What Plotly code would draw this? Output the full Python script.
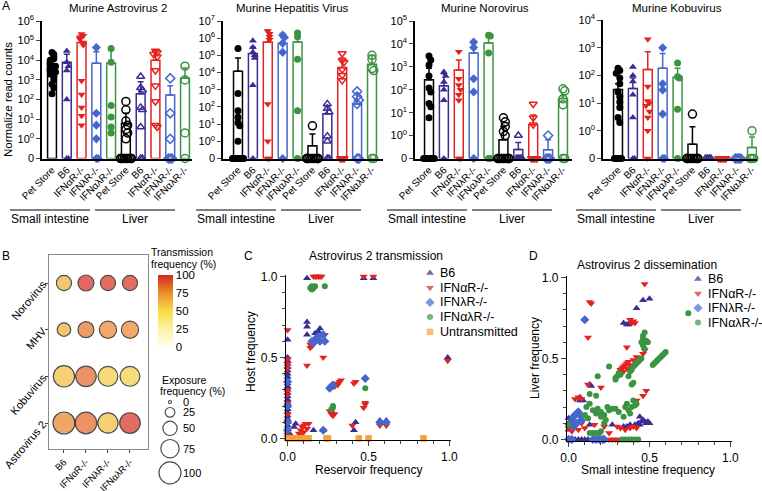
import math
import plotly.graph_objects as go

W, H = 762, 491
FONT = "Liberation Sans, Arial, sans-serif"

# ---------------- Panel A data ----------------
group_names = ["Pet Store", "B6", "IFNαR-/-", "IFNλR-/-", "IFNαλR-/-"]
tissue_names = ["Small intestine", "Liver"]
a_titles = ["Murine Astrovirus 2", "Murine Hepatitis Virus", "Murine Norovirus", "Murine Kobuvirus"]
a_top_exponents = [6, 7, 5, 4]

# order: SI Pet Store, B6, IFNaR, IFNlR, IFNalR, Liver Pet Store, B6, IFNaR, IFNlR, IFNalR
astro_mean = [6000, 8000, 80000, 7000, 7000, 6, 200, 10000, 170, 1200]
astro_err = [30000, 20000, 200000, 27000, 32000, 20, 800, 30000, 500, 4000]
astro_pts = [
    [25000, 20000, 15000, 12000, 10000, 8000, 7000, 6000, 5000, 4000, 3500, 3000, 2500, 2000, 1500, 1000, 600, 400, 200],
    [30000, 8000, 5000, 3000, 100, 0, 0],
    [220000, 180000, 150000, 120000, 80000, 60000, 900, 180, 40, 15, 5],
    [45000, 20, 5, 1, 0, 0],
    [40000, 8000, 50, 13, 4, 2],
    [80, 30, 8, 5, 3, 2, 1, 0, 0, 0, 0, 0, 0, 0, 0, 0],
    [1500, 400, 300, 40, 30, 4, 0, 0],
    [30000, 25000, 20000, 15000, 3000, 500, 80, 5, 4],
    [1200, 20, 1, 0, 0, 0],
    [5000, 1000, 2, 0],
]

mhv_mean = [12000, 130000, 600000, 500000, 600000, 0.56, 40, 20000, 150, 30000]
mhv_err = [70000, 300000, 3000000, 1900000, 2300000, 2.7, 120, 70000, 600, 100000]
mhv_pts = [
    [250000, 600, 60, 25, 12, 8, 1, 0, 0, 0, 0, 0, 0, 0, 0, 0],
    [700000, 300000, 150000, 100000, 70000, 1800, 0],
    [2500000, 1800000, 1200000, 800000, 150, 1, 0, 0],
    [1500000, 1100000, 500000, 150000, 0],
    [2000000, 1200000, 60000, 60, 0],
    [8, 0, 0, 0, 0, 0, 0, 0, 0, 0, 0, 0, 0, 0],
    [150, 80, 50, 2, 1, 0, 0],
    [130000, 50000, 40000, 15000, 7000, 3500, 0, 0, 0],
    [800, 400, 250, 150, 0, 0],
    [100000, 60000, 17000, 13000, 0, 0],
]

noro_mean = [270, 150, 720, 4000, 11000, 0.65, 0.25, 3, 0.24, 42]
noro_err = [870, 500, 2000, 11000, 22000, 2.5, 0.5, 8, 0.65, 55]
noro_pts = [
    [3000, 2000, 1200, 400, 120, 80, 25, 18, 6, 0, 0, 0, 0, 0, 0, 0],
    [600, 400, 220, 100, 35, 0],
    [4500, 300, 160, 100, 60, 35, 0, 0],
    [12000, 7000, 300, 80, 0],
    [24000, 22000, 4000, 0, 0],
    [6, 4, 2.5, 1.5, 1, 0, 0, 0, 0, 0, 0, 0, 0, 0, 0, 0],
    [1, 0, 0, 0, 0],
    [24, 6, 3, 0, 0, 0, 0],
    [1, 0, 0, 0],
    [110, 90, 40, 22, 0, 0],
]

kobu_mean = [31, 34, 165, 180, 85, 0.33, 0, 0, 0, 0.25]
kobu_err = [50, 80, 720, 620, 180, 1.4, 0, 0, 0, 0.6]
kobu_pts = [
    [180, 150, 120, 80, 50, 25, 17, 11, 7, 3, 2, 0, 0, 0, 0, 0],
    [200, 100, 60, 20, 3, 0, 0],
    [2000, 40, 12, 10, 8, 5, 3, 1, 0],
    [1000, 50, 30, 4, 0, 0],
    [280, 90, 80, 6, 0],
    [4, 0, 0, 0, 0, 0, 0, 0, 0, 0, 0, 0],
    [0, 0, 0, 0],
    [0, 0, 0, 0, 0],
    [0, 0, 0, 0],
    [1, 0, 0, 0],
]

# ---------------- Panel B data ----------------
b_viruses = ["Astrovirus 2", "Kobuvirus", "MHV", "Norovirus"]  # bottom -> top
b_genotypes = ["B6", "IFNαR-/-", "IFNλR-/-", "IFNαλR-/-"]
b_transmission = [[78, 85, 60, 98], [60, 85, 55, 55], [65, 82, 77, 77], [65, 100, 98, 98]]
b_exposure = [[100, 97, 88, 90], [95, 90, 85, 85], [45, 60, 68, 68], [55, 60, 55, 55]]
b_legend_values = [0, 25, 50, 75, 100]
b_colorbar_ticks = [0, 25, 50, 75, 100]

# ---------------- Panel C data (reservoir freq, host freq) ----------------
c_b6 = [(0, 0.61), (0, 0.5), (0, 0.48), (0, 0.46), (0, 0.44), (0, 0.42), (0, 0.40), (0, 0.38), (0, 0.36),
        (0, 0.34), (0, 0.32), (0, 0.30), (0, 0.28), (0, 0.26), (0, 0.24), (0, 0.22), (0, 0.20), (0, 0.18),
        (0, 0.16), (0, 0.14), (0, 0.12), (0, 0.10), (0, 0.08), (0, 0.06), (0, 0.04), (0, 0.02), (0, 0.0),
        (0.12, 0.99), (0.47, 0.99), (0.53, 0.99), (0.12, 0.72), (0.12, 0.69), (0.12, 0.64), (0.17, 0.65),
        (0.19, 0.66), (0.20, 0.68), (0.18, 0.63), (0.99, 0.50), (0.05, 0.09), (0.04, 0.07), (0.16, 0.05),
        (0.22, 0.05), (0.42, 0.10), (0.41, 0.05), (0.57, 0.11), (0.61, 0.11), (0.02, 0.02)]
c_ar = [(0, 0.67), (0, 0.49), (0, 0.46), (0, 0.43), (0, 0.30), (0, 0.27), (0, 0.22), (0, 0.15), (0, 0.10),
        (0, 0.05), (0, 0.02), (0.16, 1.0), (0.17, 1.0), (0.18, 1.0), (0.19, 1.0), (0.20, 1.0), (0.21, 1.0),
        (0.47, 1.0), (0.53, 1.0), (0.14, 0.58), (0.15, 0.57), (0.16, 0.59), (0.14, 0.56), (0.23, 0.64),
        (0.12, 0.45), (0.22, 0.50), (0.99, 0.48), (0.30, 0.34), (0.31, 0.33), (0.32, 0.35), (0.33, 0.36),
        (0.29, 0.32), (0.42, 0.35), (0.41, 0.34), (0.26, 0.17), (0.27, 0.15), (0.28, 0.14), (0.27, 0.16),
        (0.29, 0.15), (0.48, 0.21), (0.47, 0.19), (0.48, 0.22), (0.40, 0.08), (0.57, 0.08), (0.61, 0.08),
        (0.07, 0.03), (0.08, 0.05), (0.09, 0.07), (0.10, 0.08), (0.11, 0.09), (0.12, 0.06), (0.08, 0.02),
        (0.10, 0.04), (0.13, 0.09), (0.06, 0.01)]
c_lr = [(0, 0.35), (0, 0.20), (0, 0.10), (0, 0.05), (0.15, 0.60), (0.16, 0.59), (0.17, 0.61), (0.18, 0.62),
        (0.19, 0.63), (0.20, 0.60), (0.22, 0.64), (0.23, 0.60), (0.26, 0.31), (0.27, 0.32), (0.28, 0.33),
        (0.48, 0.37), (0.57, 0.10), (0.61, 0.10), (0.22, 0.05)]
c_alr = [(0.14, 0.93), (0.15, 0.94), (0.16, 0.93), (0.15, 0.92), (0.17, 0.94), (0.23, 0.94), (0.48, 0.31),
         (0.28, 0.19), (0.28, 0.20), (0.27, 0.18)]
c_untransmitted_x = [0.0, 0.02, 0.04, 0.06, 0.08, 0.10, 0.13, 0.24, 0.25, 0.44, 0.50, 0.84]

# ---------------- Panel D data (small intestine freq, liver freq) ----------------
d_b6 = [(0, 0.10), (0, 0.13), (0, 0.06), (0.07, 0.24), (0.07, 0.26), (0.09, 0.24), (0.13, 0.34), (0.14, 0.33),
        (0.13, 0.09), (0.04, 0), (0.06, 0), (0.08, 0), (0.10, 0), (0.12, 0), (0.27, 0.09), (0.34, 0.08),
        (0.36, 0.08), (0.38, 0.09), (0.41, 0.09), (0.43, 0.10), (0.44, 0.14), (0.45, 0.11), (0.46, 0.12),
        (0.47, 0.11), (0.48, 0.10), (0.49, 0.11), (0.50, 0.10), (0.44, 0.09), (0.34, 0.72), (0.36, 0.71),
        (0.37, 0.71), (0.42, 0.81), (0.46, 0.86), (0.50, 0.87)]
d_ar = [(0.47, 0.96), (0.13, 0.85), (0.14, 0.84), (0.12, 0.63), (0.38, 0.74), (0.39, 0.72), (0.40, 0.73),
        (0.41, 0.72), (0.36, 0.57), (0.47, 0.55), (0.46, 0.53), (0.32, 0.43), (0.33, 0.44), (0.34, 0.45),
        (0.35, 0.46), (0.36, 0.47), (0.37, 0.48), (0.38, 0.46), (0.36, 0.44), (0.40, 0.49), (0.42, 0.51),
        (0.34, 0.42), (0.48, 0.30), (0.46, 0.27), (0.42, 0.24), (0.12, 0.34), (0.20, 0.32), (0.04, 0.25),
        (0.06, 0.26), (0.08, 0.25), (0.0, 0.07), (0.02, 0.05), (0.04, 0.08), (0.06, 0.06), (0.08, 0.10),
        (0.10, 0.07), (0.22, 0.08), (0.25, 0.04), (0.27, 0.0), (0.29, 0.0), (0.31, 0.0), (0.25, 0.0),
        (0.35, 0.06), (0.38, 0.07), (0.30, 0.08), (0.32, 0.07), (0.40, 0.08), (0.42, 0.07), (0.16, 0.09)]
d_lr = [(0.10, 0.74), (0.01, 0.10), (0.02, 0.12), (0.03, 0.14), (0.04, 0.15), (0.05, 0.16), (0.06, 0.17),
        (0.07, 0.15), (0.08, 0.12), (0.03, 0.08), (0.05, 0.10), (0.0, 0.0), (0.02, 0.0), (0.15, 0.0),
        (0.17, 0.0), (0.19, 0.0), (0.21, 0.0), (0.22, 0.0)]
d_alr = [(0.74, 0.78), (0.52, 0.46), (0.53, 0.47), (0.54, 0.48), (0.55, 0.49), (0.56, 0.50), (0.57, 0.51),
         (0.58, 0.52), (0.59, 0.53), (0.60, 0.54), (0.45, 0.60), (0.46, 0.62), (0.46, 0.64), (0.47, 0.66),
         (0.48, 0.61), (0.49, 0.60), (0.46, 0.58), (0.47, 0.56), (0.39, 0.43), (0.40, 0.45), (0.41, 0.46),
         (0.42, 0.47), (0.43, 0.48), (0.44, 0.49), (0.45, 0.50), (0.38, 0.42), (0.25, 0.45), (0.29, 0.38),
         (0.30, 0.39), (0.31, 0.41), (0.32, 0.40), (0.29, 0.37), (0.18, 0.39), (0.37, 0.39), (0.40, 0.35),
         (0.39, 0.34), (0.13, 0.28), (0.17, 0.27), (0.11, 0.20), (0.13, 0.22), (0.15, 0.18), (0.17, 0.16),
         (0.18, 0.19), (0.20, 0.17), (0.22, 0.15), (0.23, 0.12), (0.24, 0.20), (0.25, 0.18), (0.27, 0.19),
         (0.29, 0.19), (0.31, 0.17), (0.34, 0.14), (0.35, 0.20), (0.36, 0.22), (0.37, 0.18), (0.38, 0.16),
         (0.39, 0.20), (0.40, 0.24), (0.41, 0.21), (0.42, 0.22), (0.20, 0.14), (0.22, 0.10), (0.12, 0.13),
         (0.10, 0.15), (0.13, 0.04), (0.15, 0.04), (0.17, 0.04), (0.19, 0.04), (0.20, 0.05), (0.0, 0.09),
         (0.33, 0.0), (0.35, 0.0), (0.37, 0.0), (0.39, 0.0), (0.41, 0.0), (0.43, 0.0)]

# ---------------- styling ----------------
COLORS = ["#000000", "#3A2D92", "#E3231F", "#4666CE", "#3C9443"]
ORANGE = "#F2A23A"
SYMBOLS = ["circle", "triangle-up", "triangle-down", "diamond", "circle"]


def fx(px):
    return px / W


def fy(py):
    return 1 - py / H


def tf(v):
    return math.log10(v) if v > 0 else -1.0


def spread(vals):
    ys = [tf(v) for v in vals]
    offs, placed = [], []
    for y in ys:
        k = sum(1 for p in placed if abs(p - y) < 0.22)
        placed.append(y)
        o = ((k + 1) // 2) * 0.12 * (1 if k % 2 else -1)
        offs.append(max(-0.36, min(0.36, o)))
    return ys, offs


fig = go.Figure()
layout = dict(
    template="none",
    width=W, height=H, margin=dict(l=0, r=0, t=0, b=0, autoexpand=False), paper_bgcolor="white",
    plot_bgcolor="rgba(0,0,0,0)",
    showlegend=False, barmode="overlay", font=dict(family=FONT, color="black", size=11),
)
annotations, shapes = [], []


def ann(text, px, py, size=11, xanchor="center", angle=0):
    annotations.append(dict(text=text, x=fx(px), y=fy(py), xref="paper", yref="paper", showarrow=False,
                            xanchor=xanchor, yanchor="middle", textangle=angle, borderpad=0,
                            font=dict(size=size, family=FONT, color="black")))


# ---------------- Panel A ----------------
a_means = [astro_mean, mhv_mean, noro_mean, kobu_mean]
a_errs = [astro_err, mhv_err, noro_err, kobu_err]
a_points = [astro_pts, mhv_pts, noro_pts, kobu_pts]
a_geom = [(42, 52, 185, 192, 21), (223, 238, 372, 383, 21), (415, 429, 563, 572, 21), (603, 618, 752, 757, 20)]
a_title_x = [118, 292, 485, 677]
ZERO_PY = 158.5

for p in range(4):
    n = p + 1
    xa, ya = ("x", "y") if n == 1 else (f"x{n}", f"y{n}")
    left, first, last, right, top_px = a_geom[p]
    sp = (last - first) / 9
    top = a_top_exponents[p]
    layout[f"xaxis{n if n > 1 else ''}"] = dict(
        domain=[fx(left), fx(right)], range=[-(first - left) / sp, 9 + (right - last) / sp], anchor=ya,
        tickmode="array", tickvals=list(range(10)), ticktext=group_names * 2, tickangle=-45, ticks="",
        showline=True, linecolor="black", linewidth=1.5, showgrid=False, zeroline=False, automargin=False,
        tickfont=dict(size=10, family=FONT))
    layout[f"yaxis{n if n > 1 else ''}"] = dict(
        domain=[fy(ZERO_PY), fy(top_px)], range=[-1, top], anchor=xa,
        tickmode="array", tickvals=list(range(-1, top + 1)),
        ticktext=["0"] + [f"10<sup>{k}</sup>" for k in range(0, top + 1)],
        ticks="outside", ticklen=4, tickwidth=1.3, showline=True, linecolor="black", linewidth=1.5,
        showgrid=False, zeroline=False, automargin=False, tickfont=dict(size=11, family=FONT))
    means, errs, pts = a_means[p], a_errs[p], a_points[p]
    for g in range(10):
        col = COLORS[g % 5]
        m, e = means[g], errs[g]
        if m > 0:
            fig.add_trace(go.Bar(x=[g], y=[tf(m) + 1], base=[-1], width=0.6, xaxis=xa, yaxis=ya,
                                 marker=dict(color="white", line=dict(color=col, width=1.5)),
                                 hoverinfo="skip"))
            fig.add_trace(go.Scatter(x=[g], y=[tf(m)], mode="markers", xaxis=xa, yaxis=ya,
                                     marker=dict(size=1, opacity=0), hoverinfo="skip",
                                     error_y=dict(type="data", symmetric=False, array=[tf(e) - tf(m)],
                                                  arrayminus=[0], color=col, thickness=1.5, width=3)))
        ys, offs = spread(pts[g])
        is_open = g >= 5
        sym = SYMBOLS[g % 5] + ("-open" if is_open else "")
        size = 7 if SYMBOLS[g % 5] != "circle" else (8 if is_open else 7)
        fig.add_trace(go.Scatter(x=[g + o for o in offs], y=ys, mode="markers", xaxis=xa, yaxis=ya,
                                 cliponaxis=False, hoverinfo="skip",
                                 marker=dict(symbol=sym, size=size, color=col,
                                             line=dict(color=col, width=1.5 if is_open else 0))))
    ann(a_titles[p], a_title_x[p], 8, size=11.5)
    # tissue group lines and labels
    for t, (s, e) in enumerate([(first - 42, first + 38), (first + 43, first + 123)]):
        shapes.append(dict(type="line", xref="paper", yref="paper", x0=fx(s), x1=fx(e), y0=fy(210),
                           y1=fy(210), line=dict(color="black", width=1)))
        ann(tissue_names[t], (s + e) / 2, 219, size=12)

ann("Normalize read counts", 8, 100, size=11.5, angle=-90)
ann("A", 6, 6, size=12)

# ---------------- Panel B ----------------
def bubble_size(v):
    return 3 + 19 * (v / 100) ** 0.75


bx, by, bc, bs = [], [], [], []
for r in range(4):
    for c in range(4):
        bx.append(c)
        by.append(r)
        bc.append(b_transmission[r][c])
        bs.append(bubble_size(b_exposure[r][c]))

b_scale = [[0.0, "#FFFFF2"], [0.25, "#FBF2A6"], [0.5, "#F7DC45"], [0.75, "#EC8E2A"], [1.0, "#D7261F"]]
fig.add_trace(go.Scatter(
    x=bx, y=by, mode="markers", xaxis="x5", yaxis="y5", hoverinfo="skip", cliponaxis=False,
    marker=dict(size=bs, color=bc, colorscale=b_scale, cmin=0, cmax=100, line=dict(color="black", width=1.2),
                showscale=True,
                colorbar=dict(x=fx(158), xanchor="left", xpad=0, y=fy(275), yanchor="top", ypad=0,
                              len=72, lenmode="pixels", thickness=15, thicknessmode="pixels",
                              tickmode="array", tickvals=b_colorbar_ticks, ticks="", outlinewidth=0,
                              tickfont=dict(size=11.5, family=FONT)))))
layout["xaxis5"] = dict(domain=[fx(49), fx(148)], range=[-0.68, 3.82], anchor="y5", tickmode="array",
                        tickvals=list(range(4)), ticktext=b_genotypes, tickangle=-45, ticks="outside",
                        ticklen=3, showline=True, mirror=True, linecolor="#8a8a8a", linewidth=1,
                        showgrid=False, zeroline=False, automargin=False, tickfont=dict(size=9.5, family=FONT))
layout["yaxis5"] = dict(domain=[fy(449), fy(255)], range=[-0.557, 3.6], anchor="x5", tickmode="array",
                        tickvals=list(range(4)), ticktext=b_viruses, tickangle=-50, ticks="outside",
                        ticklen=3, showline=True, mirror=True, linecolor="#8a8a8a", linewidth=1,
                        showgrid=False, zeroline=False, automargin=False, tickfont=dict(size=11, family=FONT))
ann("Transmission", 150, 252, size=10.5, xanchor="left")
ann("frequency (%)", 150, 264, size=10.5, xanchor="left")
ann("Exposure", 161, 380, size=10.5, xanchor="left")
ann("frequency (%)", 159, 391, size=10.5, xanchor="left")
ann("B", 6, 256, size=12)

# overlay axis in pixel units for legend glyphs
layout["xaxis9"] = dict(domain=[0, 1], range=[0, W], anchor="y9", visible=False, fixedrange=True)
layout["yaxis9"] = dict(domain=[0, 1], range=[H, 0], anchor="x9", visible=False, fixedrange=True)

leg_sizes = [bubble_size(v) for v in b_legend_values]
leg_y = [402.0]
for i in range(1, len(leg_sizes)):
    leg_y.append(leg_y[-1] + (leg_sizes[i - 1] + leg_sizes[i]) / 2 + 4)
fig.add_trace(go.Scatter(x=[170] * len(b_legend_values), y=leg_y, mode="markers", xaxis="x9", yaxis="y9",
                         hoverinfo="skip", cliponaxis=False,
                         marker=dict(size=leg_sizes, color="white", line=dict(color="black", width=1.2))))
for v, yy in zip(b_legend_values, leg_y):
    ann(str(v), 182, yy, size=11, xanchor="left")

# ---------------- Panels C and D ----------------
def freq_axes(n, xpx, ypx):
    common = dict(showline=True, linecolor="black", linewidth=1.3, ticks="outside", ticklen=5, tickwidth=1.3,
                  tickmode="linear", tick0=0, dtick=0.5, tickformat=".1f", showgrid=False, zeroline=False,
                  automargin=False, range=[-0.01, 1.01], tickfont=dict(size=12, family=FONT),
                  minor=dict(dtick=0.1, tick0=0, ticks="outside", ticklen=3, tickwidth=1.1, showgrid=False))
    layout[f"xaxis{n}"] = dict(domain=[fx(xpx[0]), fx(xpx[1])], anchor=f"y{n}", **common)
    layout[f"yaxis{n}"] = dict(domain=[fy(ypx[1]), fy(ypx[0])], anchor=f"x{n}", **common)


freq_axes(7, (286, 451), (275, 440))
freq_axes(8, (567, 732), (276, 441))

series_names = ["B6", "IFNαR-/-", "IFNλR-/-", "IFNαλR-/-"]
series_symbols = ["triangle-up", "triangle-down", "diamond", "circle"]
series_colors = COLORS[1:]
series_sizes = [7, 7, 7, 6]

for pts_list, ax in [([c_b6, c_ar, c_lr, c_alr], 7), ([d_b6, d_ar, d_lr, d_alr], 8)]:
    for i, pts in enumerate(pts_list):
        fig.add_trace(go.Scatter(x=[q[0] for q in pts], y=[q[1] for q in pts], mode="markers",
                                 xaxis=f"x{ax}", yaxis=f"y{ax}", cliponaxis=False, hoverinfo="skip",
                                 marker=dict(symbol=series_symbols[i], size=series_sizes[i],
                                             color=series_colors[i], line=dict(width=0))))
fig.add_trace(go.Scatter(x=c_untransmitted_x, y=[0] * len(c_untransmitted_x), mode="markers", xaxis="x7",
                         yaxis="y7", cliponaxis=False, hoverinfo="skip",
                         marker=dict(symbol="square", size=6.5, color=ORANGE, line=dict(width=0))))

# manual legends
c_leg_names = series_names + ["Untransmitted"]
c_leg_syms = series_symbols + ["square"]
c_leg_cols = series_colors + [ORANGE]
for (x0, y0, step, names) in [(430, 273, 14.7, c_leg_names), (698, 279, 14.5, series_names)]:
    ys = [y0 + i * step for i in range(len(names))]
    fig.add_trace(go.Scatter(x=[x0] * len(names), y=ys, mode="markers", xaxis="x9", yaxis="y9",
                             hoverinfo="skip", cliponaxis=False,
                             marker=dict(symbol=c_leg_syms[:len(names)], color=c_leg_cols[:len(names)],
                                         size=[7, 7, 7, 6, 6.5][:len(names)], line=dict(width=0))))
    for name, yy in zip(names, ys):
        ann(name, x0 + 9, yy, size=12.5, xanchor="left")

ann("C", 249, 256, size=12)
ann("Astrovirus 2 transmission", 376, 256, size=12)
ann("Host frequency", 251, 352, size=12, angle=-90)
ann("Reservoir frequency", 368, 470, size=12)

ann("D", 533, 256, size=12)
ann("Astrovirus 2 dissemination", 647, 265, size=12)
ann("Liver frequency", 535, 358, size=12, angle=-90)
ann("Small intestine frequency", 648, 470, size=12)

layout["annotations"] = annotations
layout["shapes"] = shapes
fig.update_layout(**layout)
fig.write_html("out.html", config={"displayModeBar": False},
               post_script="document.body.style.margin='0';document.body.style.overflow='hidden';")
